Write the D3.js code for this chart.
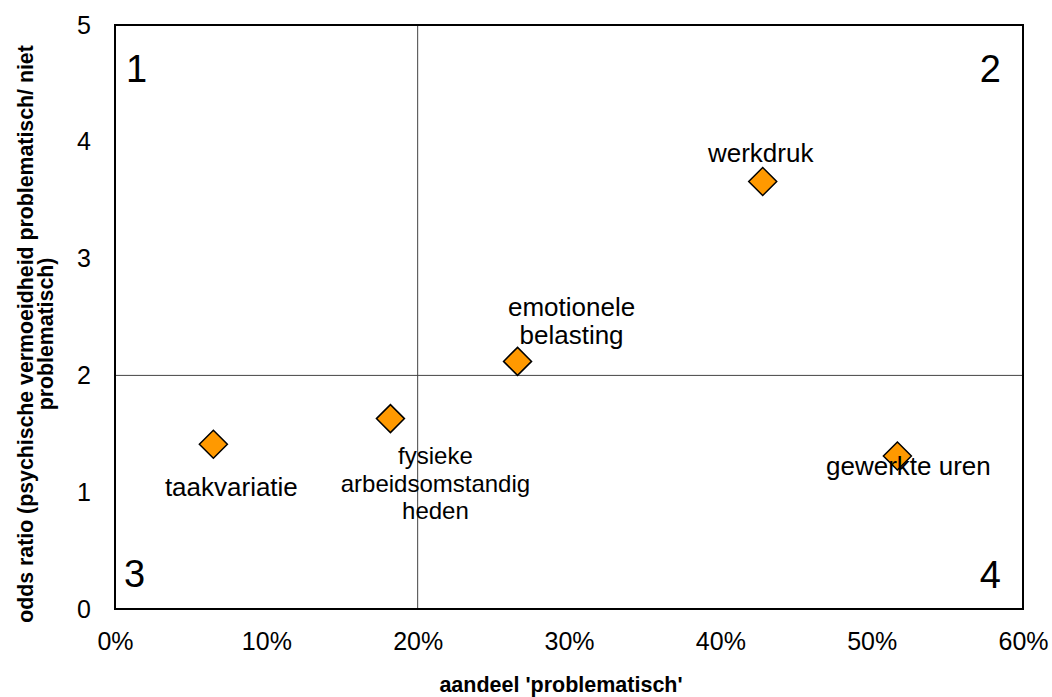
<!DOCTYPE html>
<html>
<head>
<meta charset="utf-8">
<script src="https://cdn.jsdelivr.net/npm/d3@7"></script>
<style>
  html, body { margin: 0; padding: 0; background: #fff; }
  svg { display: block; font-family: "Liberation Sans", Arial, sans-serif; }
</style>
</head>
<body>
<svg id="chart" width="1052" height="697"></svg>
<script>
// ---- data ----
const names = ["taakvariatie", "fysieke arbeidsomstandigheden", "emotionele belasting", "werkdruk", "gewerkte uren"];
const share = [0.065, 0.182, 0.266, 0.428, 0.517];       // aandeel 'problematisch'
const oddsRatio = [1.41, 1.63, 2.12, 3.66, 1.31];       // odds ratio
const labelLines = [
  ["taakvariatie"],
  ["fysieke", "arbeidsomstandig", "heden"],
  ["emotionele", "belasting"],
  ["werkdruk"],
  ["gewerkte uren"]
];
const xTicks = [0, 0.1, 0.2, 0.3, 0.4, 0.5, 0.6];
const yTicks = [0, 1, 2, 3, 4, 5];
const xSplit = 0.2;
const ySplit = 2;
const quadrants = ["1", "2", "3", "4"];
const xTitle = "aandeel 'problematisch'";
const yTitleLines = ["odds ratio (psychische vermoeidheid problematisch/ niet", "problematisch)"];

// ---- layout ----
const L = 115, R = 1023, T = 25, B = 609;
const svg = d3.select("#chart");
const x = d3.scaleLinear().domain([0, 0.6]).range([L, R]);
const y = d3.scaleLinear().domain([0, 5]).range([B, T]);

// quadrant split lines
svg.append("line").attr("x1", x(xSplit)).attr("x2", x(xSplit)).attr("y1", T).attr("y2", B)
  .attr("stroke", "#444").attr("stroke-width", 1);
svg.append("line").attr("x1", L).attr("x2", R).attr("y1", y(ySplit)).attr("y2", y(ySplit))
  .attr("stroke", "#444").attr("stroke-width", 1);

// frame
svg.append("rect").attr("x", L).attr("y", T).attr("width", R - L).attr("height", B - T)
  .attr("fill", "none").attr("stroke", "#000").attr("stroke-width", 2);

// axes
const xAxis = svg.append("g").attr("transform", `translate(0,${B})`)
  .call(d3.axisBottom(x).tickValues(xTicks).tickFormat(d3.format(".0%")).tickSize(0).tickPadding(23));
const yAxis = svg.append("g").attr("transform", `translate(${L},0)`)
  .call(d3.axisLeft(y).tickValues(yTicks).tickFormat(d3.format("d")).tickSize(0).tickPadding(24));
[xAxis, yAxis].forEach(g => {
  g.select(".domain").remove();
  g.selectAll("text").attr("font-size", 25).attr("fill", "#000")
    .attr("font-family", "Liberation Sans, Arial, sans-serif");
});

// quadrant numbers
const qPos = [
  {x: L + 11, y: T + 57, anchor: "start"},
  {x: R - 22, y: T + 57, anchor: "end"},
  {x: L + 9, y: B - 22, anchor: "start"},
  {x: R - 22, y: B - 21, anchor: "end"}
];
svg.selectAll(".q").data(quadrants).enter().append("text")
  .attr("x", (d, i) => qPos[i].x).attr("y", (d, i) => qPos[i].y)
  .attr("text-anchor", (d, i) => qPos[i].anchor)
  .attr("font-size", 38).text(d => d);

// points
const pts = names.map((n, i) => ({name: n, sx: share[i], oy: oddsRatio[i], lines: labelLines[i]}));
const dsz = 14;
svg.selectAll(".pt").data(pts).enter().append("path")
  .attr("transform", d => `translate(${x(d.sx)},${y(d.oy)})`)
  .attr("d", `M0,${-dsz}L${dsz},0L0,${dsz}L${-dsz},0Z`)
  .attr("fill", "#FF9900").attr("stroke", "#000").attr("stroke-width", 1.5);

// label layout (pixels from point: dx to label centre, dy to first baseline, font size)
const labelOffset = [
  {dx: 18, dy: 52, fs: 26},
  {dx: 45, dy: 45.5, fs: 24},
  {dx: 54, dy: -45, fs: 26},
  {dx: -2, dy: -20, fs: 26},
  {dx: 11, dy: 19, fs: 26}
];
const lineH = 27.5;
pts.forEach((d, i) => {
  const t = svg.append("text")
    .attr("text-anchor", "middle").attr("font-size", labelOffset[i].fs).attr("fill", "#000");
  d.lines.forEach((ln, j) => {
    t.append("tspan").attr("x", x(d.sx) + labelOffset[i].dx)
      .attr("y", y(d.oy) + labelOffset[i].dy + j * lineH).text(ln);
  });
});

// axis titles
svg.append("text").attr("x", 561).attr("y", 692).attr("text-anchor", "middle")
  .attr("font-size", 21.5).attr("font-weight", "bold").text(xTitle);
const yt = svg.append("text").attr("transform", "translate(33,334) rotate(-90)")
  .attr("text-anchor", "middle").attr("font-size", 21.3).attr("font-weight", "bold");
yTitleLines.forEach((ln, j) => {
  yt.append("tspan").attr("x", 0).attr("y", j * 20).text(ln);
});
</script>
</body>
</html>
